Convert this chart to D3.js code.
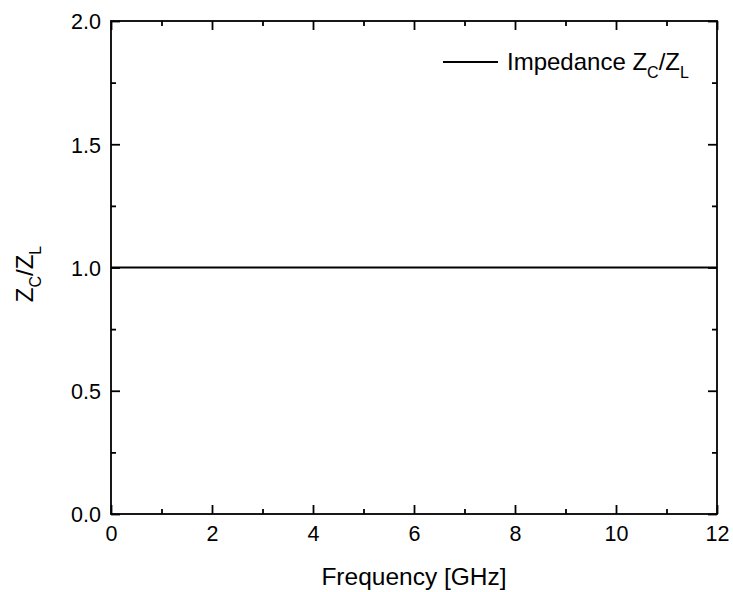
<!DOCTYPE html>
<html>
<head>
<meta charset="utf-8">
<script src="https://cdn.jsdelivr.net/npm/d3@7"></script>
<style>
  html, body { margin: 0; padding: 0; background: #fff; }
  svg { display: block; font-family: "Liberation Sans", Arial, sans-serif; }
</style>
</head>
<body>
<svg id="chart" width="733" height="592"></svg>
<script>
// Impedance ratio over frequency
const frequencyGHz = [0, 12];
const impedanceRatio = [1.0, 1.0];
const xTicks = [0, 2, 4, 6, 8, 10, 12];
const xMinorTicks = [1, 3, 5, 7, 9, 11];
const yTicks = [0.0, 0.5, 1.0, 1.5, 2.0];
const yMinorTicks = [0.25, 0.75, 1.25, 1.75];

const svg = d3.select("#chart");
const m = { left: 111, right: 717, top: 21, bottom: 514 };

const x = d3.scaleLinear().domain([0, 12]).range([m.left, m.right]);
const y = d3.scaleLinear().domain([0, 2]).range([m.bottom, m.top]);

const majorLen = 9, minorLen = 5;
const tickFont = "21.5px";
const lineW = 1.8;

// frame
svg.append("rect")
  .attr("x", m.left).attr("y", m.top)
  .attr("width", m.right - m.left).attr("height", m.bottom - m.top)
  .attr("fill", "none").attr("stroke", "#000").attr("stroke-width", lineW);

// axes with inward ticks
function styleAxis(g) {
  g.attr("font-family", null).attr("font-size", null);
  g.select(".domain").remove();
  g.selectAll(".tick line").attr("stroke", "#000").attr("stroke-width", lineW);
  g.selectAll("text").attr("fill", "#000").style("font-size", tickFont);
}

svg.append("g").attr("transform", `translate(0,${m.bottom})`)
  .call(d3.axisBottom(x).tickValues(xTicks).tickSize(-majorLen).tickPadding(9).tickFormat(d3.format("d")))
  .call(styleAxis)
  .selectAll("text").attr("dy", null).attr("y", 541 - m.bottom);
svg.append("g").attr("transform", `translate(0,${m.bottom})`)
  .call(d3.axisBottom(x).tickValues(xMinorTicks).tickSize(-minorLen).tickFormat(""))
  .call(styleAxis);

svg.append("g").attr("transform", `translate(0,${m.top})`)
  .call(d3.axisTop(x).tickValues(xTicks).tickSize(-majorLen).tickFormat(""))
  .call(styleAxis);
svg.append("g").attr("transform", `translate(0,${m.top})`)
  .call(d3.axisTop(x).tickValues(xMinorTicks).tickSize(-minorLen).tickFormat(""))
  .call(styleAxis);

svg.append("g").attr("transform", `translate(${m.left},0)`)
  .call(d3.axisLeft(y).tickValues(yTicks).tickSize(-majorLen).tickFormat(d3.format(".1f")))
  .call(styleAxis)
  .selectAll("text").attr("x", -10).attr("dy", "0.36em");
svg.append("g").attr("transform", `translate(${m.left},0)`)
  .call(d3.axisLeft(y).tickValues(yMinorTicks).tickSize(-minorLen).tickFormat(""))
  .call(styleAxis);

svg.append("g").attr("transform", `translate(${m.right},0)`)
  .call(d3.axisRight(y).tickValues(yTicks).tickSize(-majorLen).tickFormat(""))
  .call(styleAxis);
svg.append("g").attr("transform", `translate(${m.right},0)`)
  .call(d3.axisRight(y).tickValues(yMinorTicks).tickSize(-minorLen).tickFormat(""))
  .call(styleAxis);

// data line
const pts = frequencyGHz.map((f, i) => [f, impedanceRatio[i]]);
svg.append("path")
  .datum(pts)
  .attr("fill", "none").attr("stroke", "#000").attr("stroke-width", lineW)
  .attr("d", d3.line().x(d => x(d[0])).y(d => y(d[1])));

// axis titles
svg.append("text")
  .attr("x", (m.left + m.right) / 2).attr("y", 585)
  .attr("text-anchor", "middle").style("font-size", "24.5px")
  .text("Frequency [GHz]");

const yt = svg.append("text")
  .attr("transform", `translate(33,274) rotate(-90)`)
  .attr("text-anchor", "middle").style("font-size", "24px");
yt.append("tspan").text("Z");
yt.append("tspan").attr("dy", 8).style("font-size", "16px").text("C");
yt.append("tspan").attr("dy", -8).text("/Z");
yt.append("tspan").attr("dy", 8).style("font-size", "16px").text("L");

// legend
svg.append("line")
  .attr("x1", 443).attr("x2", 498).attr("y1", 62).attr("y2", 62)
  .attr("stroke", "#000").attr("stroke-width", lineW);
const lt = svg.append("text").attr("x", 507).attr("y", 70).style("font-size", "24px");
lt.append("tspan").text("Impedance Z");
lt.append("tspan").attr("dy", 8).style("font-size", "16px").text("C");
lt.append("tspan").attr("dy", -8).text("/Z");
lt.append("tspan").attr("dy", 8).style("font-size", "16px").text("L");
</script>
</body>
</html>
